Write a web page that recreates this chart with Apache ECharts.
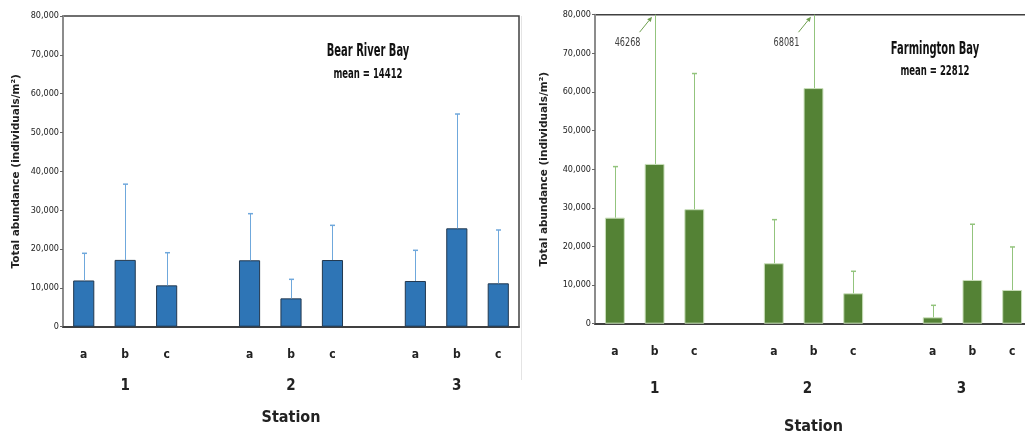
<!DOCTYPE html>
<html>
<head>
<meta charset="utf-8">
<script src="https://cdn.jsdelivr.net/npm/echarts@6.0.0/dist/echarts.min.js"></script>
<style>
html,body{margin:0;padding:0;background:#fff;}
#chart{width:1025px;height:434px;}
</style>
</head>
<body>
<div id="chart"></div>
<script>
// ---- data ----
const categories = ['a','b','c','','a','b','c','','a','b','c'];
const stationLabels = ['1','2','3'];
const yTicksMax = 80000;
const yTickStep = 10000;

const bearTitle = 'Bear River Bay';
const bearMeanText = 'mean = 14412';
const bearMean = [11900, 17200, 10650, null, 17100, 7300, 17170, null, 11770, 25330, 11170];
const bearSD   = [7000, 19500, 8400, null, 12000, 4900, 8930, null, 7900, 29430, 13730];

const farmTitle = 'Farmington Bay';
const farmMeanText = 'mean = 22812';
const farmMean = [27460, 41370, 29640, null, 15650, 61000, 7870, null, 1650, 11320, 8730];
const farmSD   = [13210, 46268, 35130, null, 11290, 68081, 5700, null, 3110, 14430, 11140];

const yName = 'Total abundance (individuals/m\u00B2)';
const xName = 'Station';

// ---- helpers ----
const NARROW = '"Liberation Sans Narrow","DejaVu Sans Condensed","Arial Narrow",sans-serif';
const WIDE = '"DejaVu Sans",Verdana,sans-serif';

function errData(mean, sd){
  const out = [];
  mean.forEach((m,i)=>{ if(m!=null) out.push([i, m, sd[i]]); });
  return out;
}

function errRender(color, arrowColor){
  return function(params, api){
    const i = api.value(0), m = api.value(1), sd = api.value(2);
    const top = m + sd;
    const clipped = top > yTicksMax;
    const p0 = api.coord([i, m]);
    const p1 = api.coord([i, Math.min(top, yTicksMax)]);
    const x = Math.round(p0[0]) + 0.5;
    const children = [{
      type:'line', shape:{x1:x, y1:p0[1], x2:x, y2:p1[1]},
      style:{stroke:color, lineWidth:1}
    }];
    if(!clipped){
      children.push({type:'line', shape:{x1:x-2.5, y1:p1[1], x2:x+2.5, y2:p1[1]},
        style:{stroke:color, lineWidth:1.5}});
    } else {
      const tx = p1[0]-2.5, ty = p1[1]+2;
      const sx = p1[0]-15, sy = p1[1]+17.5;
      const dx = tx-sx, dy = ty-sy, len = Math.sqrt(dx*dx+dy*dy);
      const ux = dx/len, uy = dy/len;
      const hl = 5, hw = 2.3;
      const bx = tx-ux*hl, by = ty-uy*hl;
      children.push({type:'line', shape:{x1:sx, y1:sy, x2:bx, y2:by},
        style:{stroke:arrowColor, lineWidth:1}});
      children.push({type:'polygon', shape:{points:[[tx,ty],[bx-uy*hw, by+ux*hw],[bx+uy*hw, by-ux*hw]]},
        style:{fill:arrowColor}});
      children.push({type:'text', x:p1[0]-27, y:p1[1]+28, scaleX:0.75,
        style:{text:String(sd), align:'center', verticalAlign:'middle',
        fontSize:12, fontFamily:NARROW, fill:'#404040'}});
    }
    return {type:'group', children};
  };
}

function xAxisFor(gridIndex, numGap, nameGap, numPads){
  const rich = { s:{fontSize:12, fontWeight:'bold', fontFamily:NARROW, color:'#222', lineHeight:14} };
  stationLabels.forEach((s,k)=>{
    rich['n'+k] = {fontSize:15, fontWeight:'bold', fontFamily:NARROW, color:'#222',
      lineHeight:numGap, padding:[0, numPads[k], 0, 0]};
  });
  return {
    type:'category', gridIndex, data:categories,
    axisTick:{show:false},
    axisLine:{lineStyle:{color:'#404040', width:2}},
    axisLabel:{
      interval:0, margin:21, rich,
      formatter:function(v, idx){
        if(v==='') return '';
        if(v==='b'){
          const k = Math.floor(idx/4);
          return '{s|b}\n{n'+k+'|'+stationLabels[k]+'}';
        }
        return '{s|'+v+'}';
      }
    },
    name:xName, nameLocation:'middle', nameGap,
    nameTextStyle:{fontSize:16, fontWeight:'bold', fontFamily:NARROW, color:'#222'}
  };
}

function yAxisFor(gridIndex, nameGap){
  return {
    type:'value', gridIndex, min:0, max:yTicksMax, interval:yTickStep,
    splitLine:{show:false},
    axisLine:{show:true, lineStyle:{color:'#8c8c8c', width:2}},
    axisTick:{show:true, length:3, lineStyle:{color:'#666'}},
    axisLabel:{fontSize:9, fontFamily:NARROW, color:'#222', margin:4,
      formatter:v=>v.toLocaleString('en-US')},
    name:yName, nameLocation:'middle', nameGap, nameRotate:90,
    nameTextStyle:{fontSize:10.5, fontWeight:'bold', fontFamily:WIDE, color:'#222'}
  };
}

function titleText(txt, x, y, size, sx){
  return {type:'text', x, y, scaleX:sx, style:{text:txt, align:'center', verticalAlign:'middle',
    fontSize:size, fontWeight:'bold', fontFamily:NARROW, fill:'#111'}};
}

const chart = echarts.init(document.getElementById('chart'), null, {renderer:'canvas'});
chart.setOption({
  animation:false,
  backgroundColor:'#fff',
  grid:[
    {left:63, top:16, width:456, height:310.7, show:true, borderColor:'#404040', borderWidth:1.5,
     containLabel:false, outerBoundsMode:'none'},
    {left:595, top:14.7, width:437, height:309, show:true, borderColor:'#404040', borderWidth:1.5,
     containLabel:false, outerBoundsMode:'none'}
  ],
  xAxis:[ xAxisFor(0, 48, 83, [0,0,0]), xAxisFor(1, 60, 95, [0,12,22]) ],
  yAxis:[ yAxisFor(0, 41), yAxisFor(1, 45) ],
  graphic:[
    titleText(bearTitle, 368, 52, 17, 0.65),
    titleText(bearMeanText, 368, 74, 13.5, 0.7),
    titleText(farmTitle, 935, 49.5, 17, 0.65),
    titleText(farmMeanText, 935, 71, 13.5, 0.7),
    {type:'line', shape:{x1:521.5, y1:16, x2:521.5, y2:380}, style:{stroke:'#e4e4e4', lineWidth:1}}
  ],
  series:[
    {type:'bar', xAxisIndex:0, yAxisIndex:0, data:bearMean, barWidth:'51%',
     itemStyle:{color:'#2E75B6', borderColor:'#22384f', borderWidth:1}},
    {type:'custom', xAxisIndex:0, yAxisIndex:0, data:errData(bearMean, bearSD),
     encode:{x:0, y:1}, renderItem:errRender('#6fa8dc', '#6fa8dc'), clip:false, z:3},
    {type:'bar', xAxisIndex:1, yAxisIndex:1, data:farmMean, barWidth:'50%',
     itemStyle:{color:'#548235', borderColor:'#c9dfba', borderWidth:1}},
    {type:'custom', xAxisIndex:1, yAxisIndex:1, data:errData(farmMean, farmSD),
     encode:{x:0, y:1}, renderItem:errRender('#93c47d', '#6f9f4f'), clip:false, z:3}
  ]
});
</script>
</body>
</html>
